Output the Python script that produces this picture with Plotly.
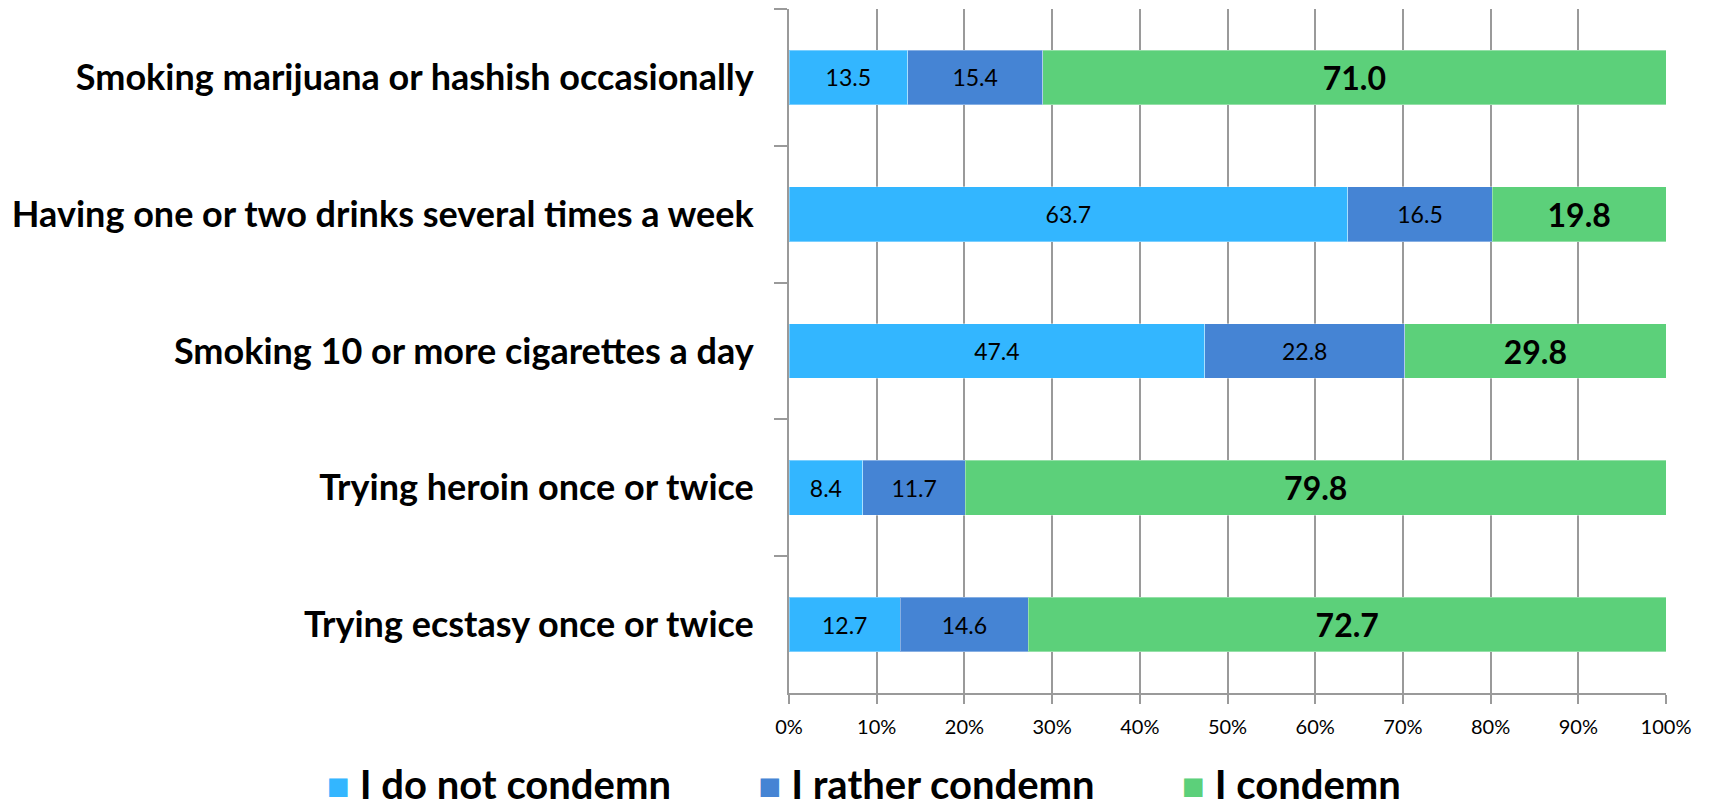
import plotly.graph_objects as go

# Survey items (top to bottom)
categories = [
    "Smoking marijuana or hashish occasionally",
    "Having one or two drinks several times a week",
    "Smoking 10 or more cigarettes a day",
    "Trying heroin once or twice",
    "Trying ecstasy once or twice",
]

# Share of answers per item, %
do_not_condemn = [13.5, 63.7, 47.4, 8.4, 12.7]
rather_condemn = [15.4, 16.5, 22.8, 11.7, 14.6]
condemn = [71.0, 19.8, 29.8, 79.8, 72.7]

series_names = ["I do not condemn", "I rather condemn", "I condemn"]
series_values = [do_not_condemn, rather_condemn, condemn]
series_colors = ["#33B6FF", "#4584D4", "#5CD07A"]

x_ticks = list(range(0, 101, 10))

FONT = "Lato"
GRID = "#9a9a9a"

fig = go.Figure()
for name, vals, color in zip(series_names, series_values, series_colors):
    big = name == "I condemn"
    fig.add_trace(go.Bar(
        y=categories,
        x=vals,
        name=name,
        orientation="h",
        marker=dict(color=color, line=dict(color="rgba(255,255,255,0.35)", width=1)),
        text=vals,
        texttemplate="%{text:.1f}",
        textposition="inside",
        insidetextanchor="middle",
        textangle=0,
        textfont=dict(family=FONT, size=32 if big else 23,
                      color="#000000", weight="bold" if big else "normal"),
        showlegend=False,
    ))

fig.update_layout(
    barmode="stack",
    barnorm="percent",
    bargap=0.6,
    width=1709,
    height=810,
    margin=dict(l=789, r=43, t=9, b=117),
    paper_bgcolor="white",
    plot_bgcolor="white",
    font=dict(family=FONT, color="#000000"),
    uniformtext=dict(mode=False),
)

fig.update_xaxes(
    range=[0, 100],
    tickvals=x_ticks,
    ticktext=[f"{v}%" for v in x_ticks],
    tickfont=dict(family=FONT, size=20, color="#000000"),
    showgrid=True, gridcolor=GRID, gridwidth=2,
    showline=True, linecolor=GRID, linewidth=2,
    ticks="outside", ticklen=9, tickcolor=GRID, tickwidth=2,
    ticklabelstandoff=6,
    zeroline=False,
    fixedrange=True,
)

fig.update_yaxes(
    type="category",
    categoryorder="array",
    categoryarray=categories,
    autorange="reversed",
    tickson="boundaries",
    ticks="outside", ticklen=13, tickcolor=GRID, tickwidth=2,
    showline=True, linecolor=GRID, linewidth=2,
    showgrid=False,
    tickfont=dict(family=FONT, size=36, color="#000000", weight="bold"),
    ticklabelstandoff=26,
    fixedrange=True,
)

# Legend row with large colour keys, centred below the axis
legend_html = "&nbsp;" * 9
legend_html = legend_html.join(
    f"<span style='color:{c}; font-size:38px'>■</span> {n}"
    for n, c in zip(series_names, series_colors)
)
fig.add_annotation(
    text=legend_html,
    xref="paper", yref="paper",
    x=(864 - 789) / 877, y=-(117 - 1) / 684,
    xanchor="center", yanchor="bottom",
    borderpad=0,
    showarrow=False,
    font=dict(family=FONT, size=40, color="#000000", weight="bold"),
)

fig.write_html("out.html")
